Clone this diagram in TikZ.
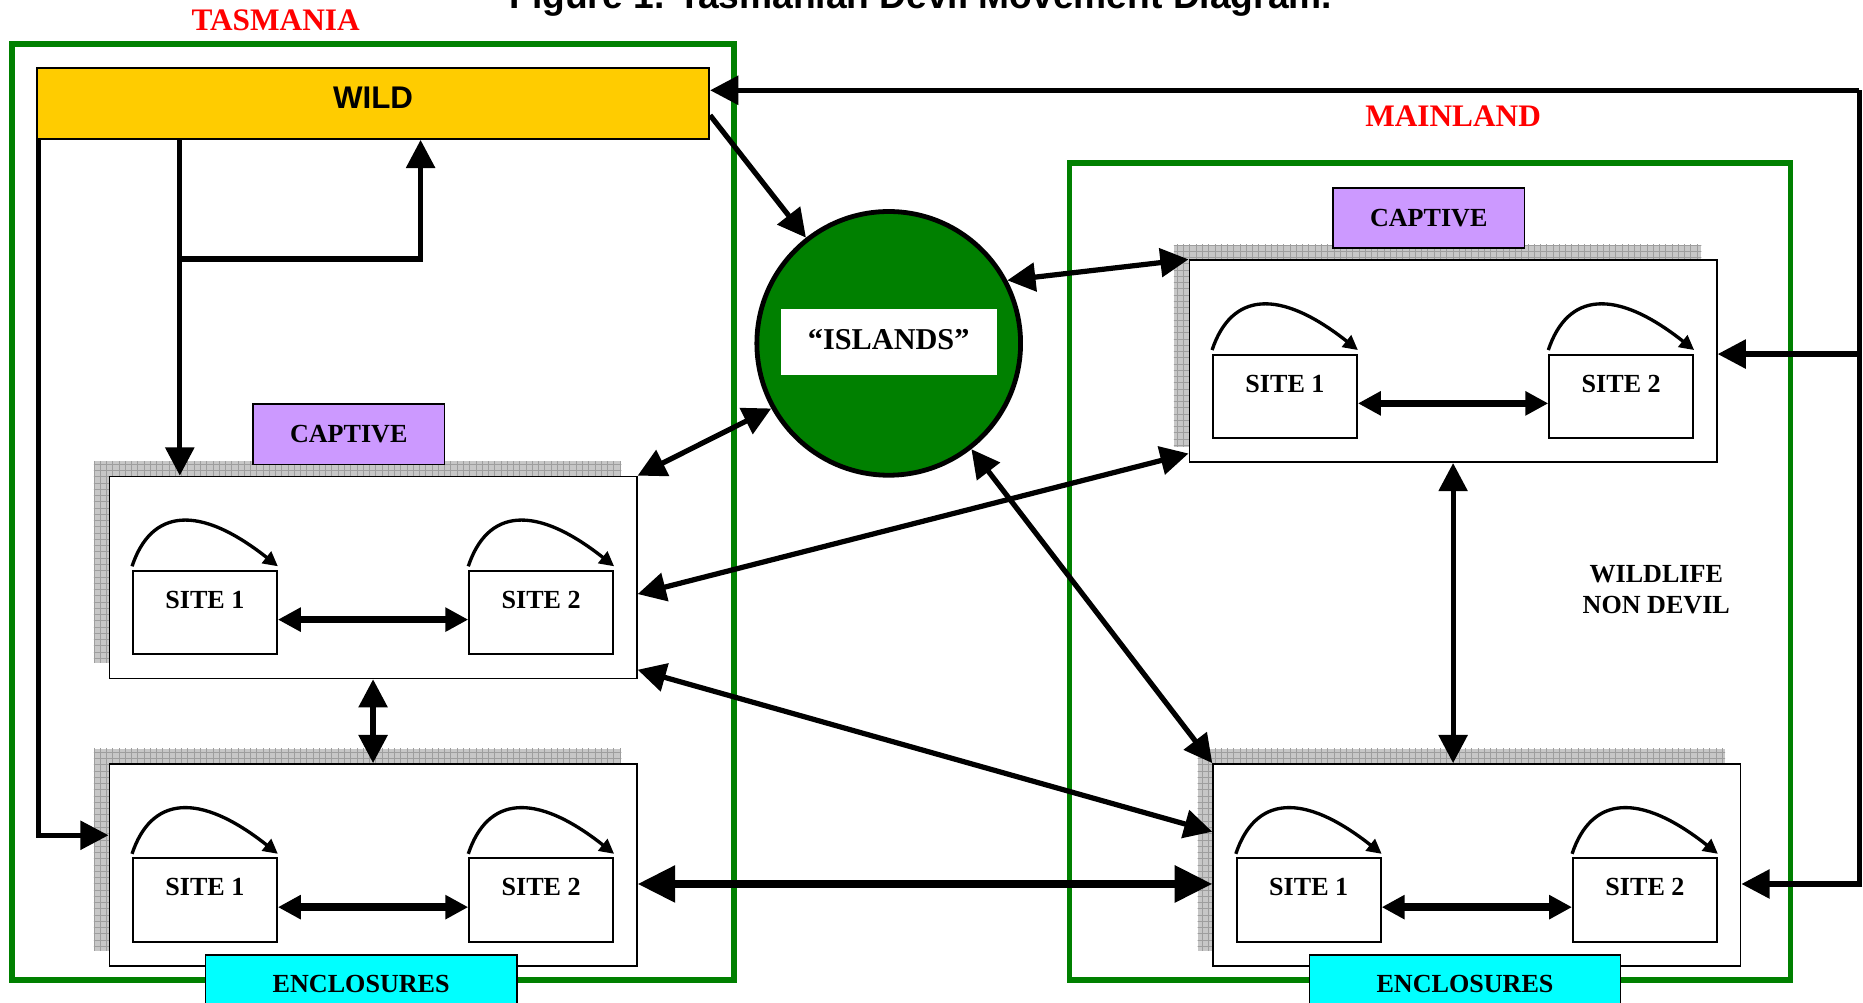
\documentclass[tikz,border=0pt]{standalone}
\usepackage{fontspec}
\setmainfont{Liberation Serif}
\setsansfont{Liberation Sans}
\usetikzlibrary{arrows.meta,shadows,patterns}

\definecolor{wildyellow}{HTML}{FFCC00}
\definecolor{captivepurple}{HTML}{CC99FF}
\definecolor{enclosurecyan}{HTML}{00FFFF}
\definecolor{framegreen}{HTML}{008000}

\begin{document}
\begin{tikzpicture}[x=0.02cm, y=-0.02cm]
  \tikzstyle{area} = [draw=framegreen, line width=2.7pt]
  \tikzstyle{region} = [text=red, font=\bfseries\fontsize{15}{18}\selectfont]
  \tikzstyle{pen} = [draw, fill=white, line width=0.8pt, minimum width=8.88cm, minimum height=3.4cm,
    drop shadow={shadow xshift=-0.26cm, shadow yshift=0.26cm, opacity=1, fill=black!22,
      postaction={pattern=grid, pattern color=black!38}}]
  \tikzstyle{site} = [draw, fill=white, line width=1pt, minimum width=2.42cm, minimum height=1.4cm,
    text height=0.31cm, text depth=0.45cm, font=\bfseries\fontsize{12.5}{15}\selectfont]
  \tikzstyle{tag} = [draw, line width=0.8pt, minimum width=3.22cm, minimum height=1.02cm,
    font=\bfseries\fontsize{12.5}{15}\selectfont]
  \tikzstyle{link} = [line width=2.5pt, >={Triangle[length=13.5pt, width=13.5pt]}]
  \tikzstyle{broad} = [line width=3.6pt, >={Triangle[length=18pt, width=17pt]}]
  \tikzstyle{pair} = [line width=3.6pt, >={Triangle[length=11pt, width=11pt]}]
  \tikzstyle{turn} = [line width=1.6pt, ->, >={Triangle[length=7pt, width=7pt]}]

  \useasboundingbox (0,0) rectangle (1568,844);
  \clip (0,0) rectangle (1568,844);

  \node[anchor=base, font=\sffamily\bfseries\fontsize{17.8}{20}\selectfont] (title) at (775,7)
    {Figure 1. Tasmanian Devil Movement Diagram.};

  % regions
  \draw[area] (10,37) rectangle (618,825);
  \draw[area] (900,137) rectangle (1507,825);
  \node[region] (tasmania) at (232,17) {TASMANIA};
  \node[region] (mainland) at (1223,98) {MAINLAND};

  \node[draw, fill=wildyellow, line width=0.8pt, minimum width=11.32cm, minimum height=1.2cm,
    text depth=0.2cm, font=\sffamily\bfseries\fontsize{15}{18}\selectfont] (wild) at (314,87) {WILD};
  \node[draw, circle, fill=framegreen, line width=2.3pt, minimum size=4.44cm, inner sep=0pt] (islands) at (748,289) {};
  \node[fill=white, minimum width=3.64cm, minimum height=1.12cm, text depth=0.1cm,
    font=\bfseries\fontsize{14.5}{17}\selectfont] (islandtag) at (748,288) {“ISLANDS”};

  \node[pen] (tascap) at (314,486) {};
  \node[pen] (tasenc) at (314,728) {};
  \node[pen] (maincap) at (1223,304) {};
  \node[pen] (mainenc) at (1243,728) {};

  \node[tag, fill=captivepurple] (tascaptag) at (293.5,365.5) {CAPTIVE};
  \node[tag, fill=captivepurple] (maincaptag) at (1202.5,183.5) {CAPTIVE};
  \node[tag, fill=enclosurecyan, minimum width=5.24cm, minimum height=0.96cm] (tasenctag) at (304,828) {ENCLOSURES};
  \node[tag, fill=enclosurecyan, minimum width=5.24cm, minimum height=0.96cm] (mainenctag) at (1233,828) {ENCLOSURES};

  \node[site] (tc1) at (172.5,515.5) {SITE 1};
  \node[site] (tc2) at (455.5,515.5) {SITE 2};
  \node[site] (te1) at (172.5,757.5) {SITE 1};
  \node[site] (te2) at (455.5,757.5) {SITE 2};
  \node[site] (mc1) at (1081.5,333.5) {SITE 1};
  \node[site] (mc2) at (1364.5,333.5) {SITE 2};
  \node[site] (me1) at (1101.5,757.5) {SITE 1};
  \node[site] (me2) at (1384.5,757.5) {SITE 2};

  \node[align=center, font=\bfseries\fontsize{12.5}{14.8}\selectfont] (nondevil) at (1394,496) {WILDLIFE\\NON DEVIL};

  % moves inside each box
  \foreach \s in {tc1,tc2,te1,te2,mc1,mc2,me1,me2}
    \draw[turn] ([yshift=0.06cm]\s.north west) .. controls +(16,-48) and +(-67,-53) .. ([yshift=0.06cm]\s.north east);
  \foreach \a/\b in {tc1/tc2, te1/te2, mc1/mc2, me1/me2}
    \draw[pair, <->] ([yshift=-0.12cm]\a.east) -- ([yshift=-0.12cm]\b.west);

  % from the wild
  \coordinate (wtc) at ([xshift=1.2cm]tascap.north west);
  \coordinate (fork) at (152,218);
  \draw[link, ->] (wild.south -| wtc) -- (wtc);
  \draw[link, ->] (fork) -| ([xshift=0.8cm]wild.south);
  \draw[link, ->] ([xshift=1pt]wild.south west) |- ([yshift=0.5cm]tasenc.west);
  \draw[link, ->] ([yshift=-0.2cm]wild.east) -- (islands);

  % back from the mainland
  \coordinate (rtop) at (1565,76);
  \coordinate (mcin) at ([yshift=0.12cm]maincap.east);
  \draw[link, ->] (rtop) -- (rtop -| wild.east);
  \draw[link, ->] (rtop) |- ([yshift=-0.32cm]mainenc.east);
  \draw[link, ->] (rtop |- mcin) -- (mcin);

  % two way moves
  \draw[link, <->] (tascap.north east) -- (islands.209);
  \draw[link, <->] (islands.28) -- (maincap.north west);
  \draw[link, <->] ([yshift=-0.28cm]tascap.east) -- ([yshift=0.16cm]maincap.south west);
  \draw[link, <->] ([yshift=0.16cm]tascap.south east) -- ([yshift=0.56cm]mainenc.west);
  \draw[link, <->] (islands.308) -- (mainenc.north west);
  \draw[link, <->] (tascap.south) -- (tasenc.north);
  \draw[link, <->] (maincap.south) -- (maincap.south |- mainenc.north);
  \draw[broad, <->] ([yshift=-0.32cm]tasenc.east) -- ([yshift=-0.32cm]mainenc.west);
\end{tikzpicture}
\end{document}
